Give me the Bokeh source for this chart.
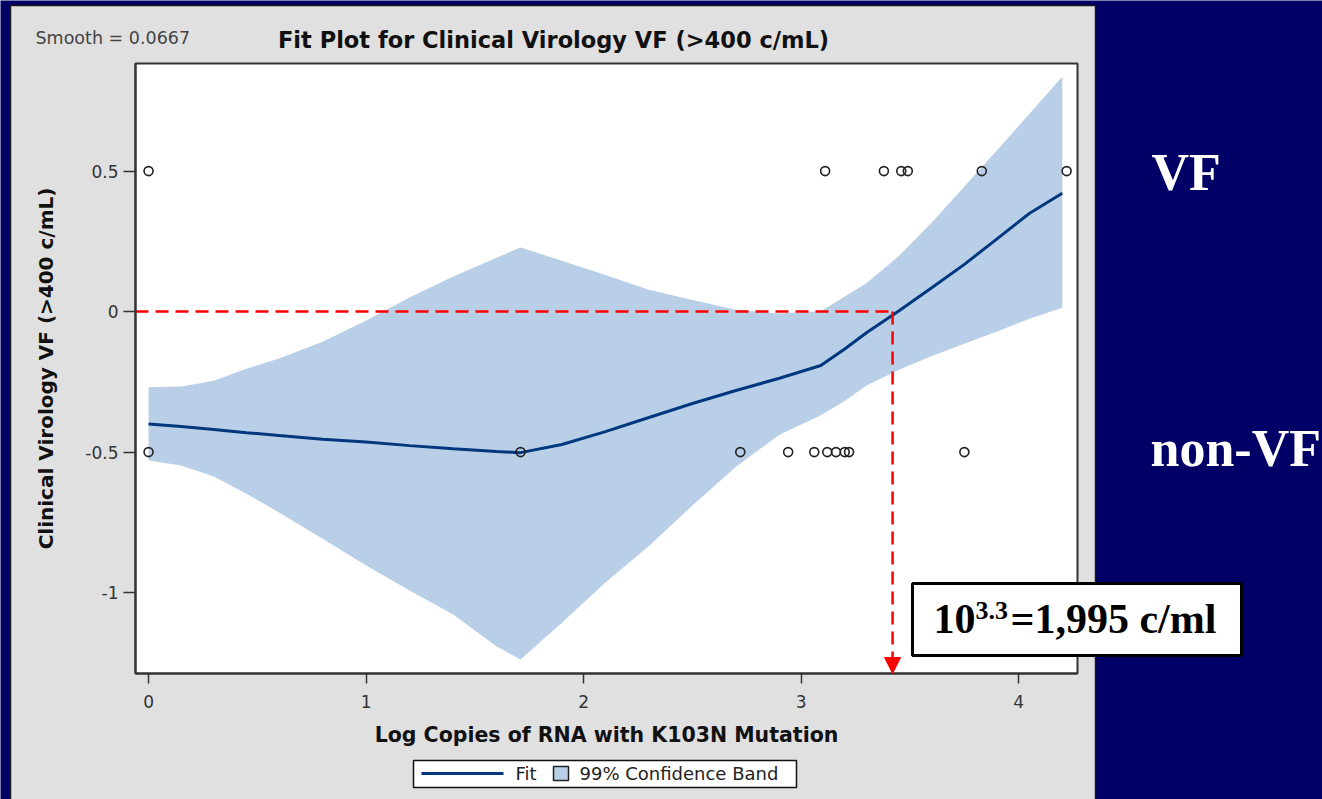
from bokeh.plotting import figure
from bokeh.models import Range1d, FixedTicker, BoxAnnotation, Label, Arrow, NormalHead
from bokeh.embed import file_html
from bokeh.resources import INLINE

# ---------------- data ----------------
x_grid = [0.0, 0.15, 0.3, 0.45, 0.6, 0.8, 1.0, 1.2, 1.4, 1.6, 1.71, 1.9, 2.1, 2.3, 2.5,
          2.7, 2.9, 3.09, 3.2, 3.3, 3.45, 3.6, 3.75, 3.9, 4.05, 4.2]
fit_y = [-0.400, -0.409, -0.420, -0.431, -0.441, -0.454, -0.464, -0.477, -0.488, -0.498,
         -0.502, -0.473, -0.427, -0.377, -0.327, -0.281, -0.237, -0.192, -0.133, -0.075,
         0.003, 0.085, 0.168, 0.259, 0.350, 0.421]
upper_y = [-0.269, -0.267, -0.246, -0.203, -0.167, -0.107, -0.032, 0.050, 0.125, 0.192,
           0.228, 0.181, 0.130, 0.078, 0.041, 0.007, -0.007, 0.001, 0.054, 0.101,
           0.199, 0.317, 0.445, 0.574, 0.705, 0.836]
lower_y = [-0.530, -0.548, -0.587, -0.648, -0.715, -0.808, -0.904, -0.993, -1.078, -1.192,
           -1.238, -1.107, -0.964, -0.834, -0.690, -0.552, -0.438, -0.369, -0.318, -0.263,
           -0.207, -0.158, -0.114, -0.071, -0.025, 0.014]

vf_x = [0.0, 3.11, 3.38, 3.46, 3.49, 3.83, 4.22]
vf_y = [0.5, 0.5, 0.5, 0.5, 0.5, 0.5, 0.5]
nonvf_x = [0.0, 1.71, 2.72, 2.94, 3.06, 3.12, 3.16, 3.20, 3.22, 3.75]
nonvf_y = [-0.5, -0.5, -0.5, -0.5, -0.5, -0.5, -0.5, -0.5, -0.5, -0.5]

x_ticks = [0, 1, 2, 3, 4]
y_ticks = [-1, -0.5, 0, 0.5]
y_tick_labels = ["-1", "-0.5", "0", "0.5"]

x_min, x_max = -0.06, 4.27
y_min, y_max = -1.288, 0.883

cutoff_x = 3.42
cutoff_y = 0.0

title_text = "Fit Plot for Clinical Virology VF (>400 c/mL)"
smooth_text = "Smooth = 0.0667"
x_label = "Log Copies of RNA with K103N Mutation"
y_label = "Clinical Virology VF (>400 c/mL)"

# ---------------- styling / layout ----------------
W, H = 1322, 799
FRAME_L, FRAME_R, FRAME_T, FRAME_B = 135, 1077, 63, 673   # chart box in page pixels
NAVY = "#000066"
PANEL = "#e0e0e0"
BAND = "#b9cfe7"
FIT = "#00377f"
SANS = "DejaVu Sans"
SERIF = "Liberation Serif"

sx = (FRAME_R - FRAME_L) / (x_max - x_min)
sy = (FRAME_B - FRAME_T) / (y_max - y_min)
page_x = Range1d(x_min - FRAME_L / sx, x_max + (W - FRAME_R) / sx)
page_y = Range1d(y_min - (H - FRAME_B) / sy, y_max + FRAME_T / sy)

p = figure(width=W, height=H, output_backend="svg", toolbar_location=None, title=None,
           x_range=page_x, y_range=page_y, min_border=0,
           min_border_left=0, min_border_right=0, min_border_top=0, min_border_bottom=0,
           border_fill_color=NAVY, background_fill_color=NAVY)
p.grid.visible = False
p.outline_line_color = None


def cbox(l, r, t, b, **kw):
    return BoxAnnotation(left=l, right=r, top=t, bottom=b,
                         left_units="canvas", right_units="canvas",
                         top_units="canvas", bottom_units="canvas", **kw)


# grey panel with its dark border, then the white chart box
p.add_layout(cbox(10, 1095, 5, H + 20, fill_color=PANEL, fill_alpha=1,
                  line_color="#1a1a1a", line_alpha=1, line_width=1.5, level="underlay"))
p.add_layout(BoxAnnotation(left=x_min, right=x_max, bottom=y_min, top=y_max,
                           fill_color="white", fill_alpha=1, line_color="#333333",
                           line_alpha=1, line_width=2, level="underlay"))

# data
p.varea(x=x_grid, y1=lower_y, y2=upper_y, fill_color=BAND, fill_alpha=1)
p.line(x_grid, fit_y, line_color=FIT, line_width=3)
p.segment(x0=[x_min], y0=[cutoff_y], x1=[cutoff_x], y1=[cutoff_y],
          line_color="red", line_width=2.5, line_dash="13 7")
p.add_layout(Arrow(x_start=cutoff_x, y_start=cutoff_y, x_end=cutoff_x, y_end=y_min,
                   line_color="red", line_width=2.5, line_dash="13 7",
                   end=NormalHead(size=16, fill_color="red", line_color="red", line_width=1)))
p.scatter(vf_x, vf_y, marker="circle", size=9, fill_color=None, line_color="#222222",
          line_width=1.6)
p.scatter(nonvf_x, nonvf_y, marker="circle", size=9, fill_color=None, line_color="#222222",
          line_width=1.6)

# axes, pinned to the chart box edges
xa = p.xaxis[0]
ya = p.yaxis[0]
xa.fixed_location = y_min
ya.fixed_location = x_min
xa.bounds = (x_min, x_max)
ya.bounds = (y_min, y_max)
xa.ticker = FixedTicker(ticks=x_ticks)
ya.ticker = FixedTicker(ticks=y_ticks)
ya.major_label_overrides = dict(zip(y_ticks, y_tick_labels))
xa.axis_label = x_label
ya.axis_label = y_label
for ax in (xa, ya):
    ax.major_label_text_font = SANS
    ax.major_label_text_font_size = "17px"
    ax.major_label_text_color = "#333333"
    ax.axis_label_text_font = SANS
    ax.axis_label_text_font_style = "bold"
    ax.axis_label_text_color = "#111111"
    ax.major_tick_line_color = "#333333"
    ax.major_tick_line_width = 1.5
    ax.major_tick_in = 0
    ax.minor_tick_line_color = None
    ax.axis_line_color = "#333333"
    ax.axis_line_width = 2
xa.axis_label_text_font_size = "20.5px"
ya.axis_label_text_font_size = "20px"
xa.major_tick_out = 10
ya.major_tick_out = 12
xa.major_label_standoff = 11
ya.major_label_standoff = 5
xa.axis_label_standoff = 12
ya.axis_label_standoff = 24


def canvas_label(x, y, text, size, font=SANS, style="normal", color="#111111",
                 align="left", level="annotation"):
    p.add_layout(Label(x=x, y=y, x_units="canvas", y_units="canvas", text=text,
                       text_font=font, text_font_size=size, text_font_style=style,
                       text_color=color, text_align=align, text_baseline="middle",
                       level=level))


canvas_label(553, 39, title_text, "22.5px", style="bold", align="center")
canvas_label(35, 37, smooth_text, "17.5px", color="#444444")

# legend (boxed key under the axis label)
p.add_layout(cbox(413, 796, 760, 787, fill_color="white", fill_alpha=1,
                  line_color="#111111", line_alpha=1, line_width=1.5))
p.add_layout(cbox(421, 503, 771.5, 774.5, fill_color=FIT, fill_alpha=1, line_color=None))
canvas_label(515, 773, "Fit", "18px", color="#222222")
p.add_layout(cbox(553, 568, 766, 780, fill_color=BAND, fill_alpha=1,
                  line_color="#222222", line_alpha=1, line_width=1.5))
canvas_label(579, 773, "99% Confidence Band", "18px", color="#222222")

# right-hand slide labels
canvas_label(1151, 172, "VF", "52px", font=SERIF, style="bold", color="white",
             level="overlay")
canvas_label(1150, 448, "non-VF", "52px", font=SERIF, style="bold", color="white",
             level="overlay")

# cutoff call-out box
p.add_layout(cbox(912, 1241, 583, 655, fill_color="white", fill_alpha=1,
                  line_color="black", line_alpha=1, line_width=3, level="overlay"))
canvas_label(933, 618, "10", "42px", font=SERIF, style="bold", color="black",
             level="overlay")
canvas_label(975, 610, "3.3", "26px", font=SERIF, style="bold", color="black",
             level="overlay")
canvas_label(1010, 618, "=1,995 c/ml", "42px", font=SERIF, style="bold", color="black",
             level="overlay")

open("out.html", "w").write(file_html(p, INLINE))
